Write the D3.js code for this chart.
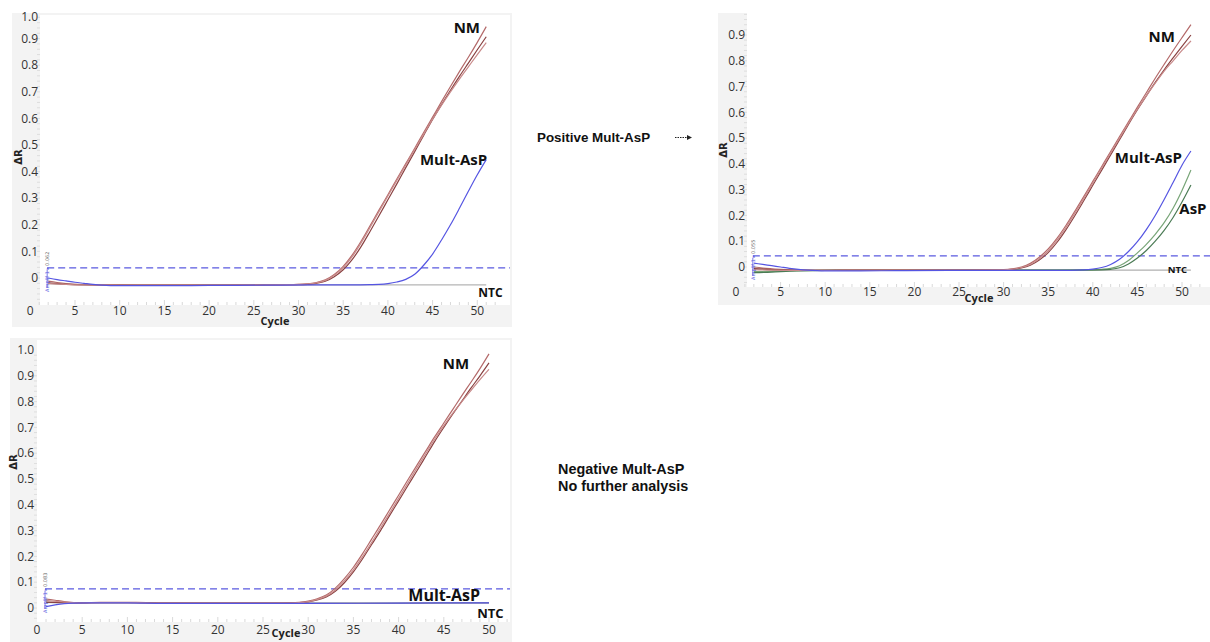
<!DOCTYPE html>
<html>
<head>
<meta charset="utf-8">
<script src="https://cdn.jsdelivr.net/npm/d3@7"></script>
<style>
    body { margin: 0; background: #fff; }
    svg { display: block; }
</style>
</head>
<body>
<div id="chart"></div>
<script>
'use strict';

var cycleTicks = [0, 5, 10, 15, 20, 25, 30, 35, 40, 45, 50];
var yTicksTen = [0, 0.1, 0.2, 0.3, 0.4, 0.5, 0.6, 0.7, 0.8, 0.9, 1.0];
var yTicksNine = [0, 0.1, 0.2, 0.3, 0.4, 0.5, 0.6, 0.7, 0.8, 0.9];

// top left: Mult-AsP screening, positive
var tlNM = [
    [[2,-0.012],[3,-0.017],[4,-0.021],[6,-0.025],[8,-0.026],[12,-0.027],[18,-0.027],[24,-0.026],[29,-0.025],[30,-0.024],[31,-0.022],[32,-0.017],[33,-0.007],[34,0.013],[35,0.044],[36,0.086],[37,0.138],[38,0.196],[39,0.255],[40,0.313],[41,0.372],[42,0.43],[43,0.488],[44,0.547],[45,0.605],[46,0.663],[47,0.72],[48,0.776],[49,0.83],[50,0.886],[51,0.945]],
    [[2,-0.018],[4,-0.023],[6,-0.025],[8,-0.026],[12,-0.027],[18,-0.027],[24,-0.026],[29,-0.025],[30,-0.025],[31,-0.024],[32,-0.02],[33,-0.012],[34,0.005],[35,0.031],[36,0.069],[37,0.118],[38,0.175],[39,0.234],[40,0.294],[41,0.354],[42,0.415],[43,0.475],[44,0.536],[45,0.596],[46,0.652],[47,0.706],[48,0.758],[49,0.808],[50,0.858],[51,0.907]],
    [[2,-0.021],[4,-0.024],[6,-0.026],[8,-0.026],[12,-0.027],[18,-0.027],[24,-0.026],[29,-0.025],[30,-0.024],[31,-0.022],[32,-0.018],[33,-0.009],[34,0.01],[35,0.039],[36,0.08],[37,0.132],[38,0.19],[39,0.249],[40,0.308],[41,0.367],[42,0.425],[43,0.483],[44,0.54],[45,0.597],[46,0.65],[47,0.7],[48,0.748],[49,0.794],[50,0.84],[51,0.885]]
];
var tlMult = [[2,0.0],[3,-0.006],[4,-0.011],[5,-0.016],[6,-0.02],[7,-0.024],[8,-0.027],[10,-0.029],[14,-0.029],[20,-0.028],[26,-0.027],[32,-0.026],[36,-0.026],[38,-0.025],[39,-0.024],[40,-0.021],[41,-0.015],[42,-0.005],[43,0.014],[44,0.048],[45,0.09],[46,0.143],[47,0.2],[48,0.262],[49,0.326],[50,0.388],[51,0.445]];
var tlNTC = [[2,-0.02],[4,-0.024],[7,-0.026],[20,-0.026],[40,-0.026],[51,-0.026]];

// top right: AsP run after a positive screen
var trNM = [
    [[2,0.0],[3,-0.004],[5,-0.009],[7,-0.012],[10,-0.013],[15,-0.012],[20,-0.012],[25,-0.012],[29,-0.011],[30,-0.01],[31,-0.007],[32,0.0],[33,0.014],[34,0.038],[35,0.07],[36,0.112],[37,0.162],[38,0.217],[39,0.274],[40,0.332],[41,0.39],[42,0.448],[43,0.506],[44,0.563],[45,0.62],[46,0.676],[47,0.732],[48,0.786],[49,0.839],[50,0.89],[51,0.94]],
    [[2,-0.006],[4,-0.01],[7,-0.012],[10,-0.013],[15,-0.012],[20,-0.012],[25,-0.012],[30,-0.011],[31,-0.009],[32,-0.004],[33,0.007],[34,0.027],[35,0.056],[36,0.096],[37,0.145],[38,0.2],[39,0.258],[40,0.317],[41,0.376],[42,0.435],[43,0.494],[44,0.553],[45,0.61],[46,0.664],[47,0.716],[48,0.765],[49,0.811],[50,0.856],[51,0.9]],
    [[2,-0.01],[4,-0.012],[7,-0.013],[10,-0.013],[15,-0.012],[20,-0.012],[25,-0.012],[30,-0.011],[31,-0.008],[32,-0.002],[33,0.01],[34,0.032],[35,0.063],[36,0.104],[37,0.154],[38,0.209],[39,0.266],[40,0.325],[41,0.384],[42,0.442],[43,0.5],[44,0.557],[45,0.612],[46,0.664],[47,0.713],[48,0.76],[49,0.8],[50,0.84],[51,0.877]]
];
var trMult = [[2,0.015],[3,0.01],[4,0.005],[5,0.0],[6,-0.005],[7,-0.009],[8,-0.012],[10,-0.015],[14,-0.015],[18,-0.014],[24,-0.013],[30,-0.013],[36,-0.013],[39,-0.011],[40,-0.008],[41,-0.002],[42,0.01],[43,0.03],[44,0.06],[45,0.098],[46,0.145],[47,0.2],[48,0.262],[49,0.328],[50,0.395],[51,0.45]];
var trAsP = [
    [[2,-0.018],[4,-0.017],[6,-0.015],[10,-0.013],[16,-0.011],[18,-0.013],[24,-0.012],[30,-0.012],[36,-0.012],[40,-0.011],[41,-0.009],[42,-0.005],[43,0.005],[44,0.025],[45,0.055],[46,0.088],[47,0.127],[48,0.172],[49,0.228],[50,0.297],[51,0.376]],
    [[2,-0.022],[4,-0.02],[6,-0.016],[10,-0.013],[16,-0.012],[24,-0.012],[30,-0.012],[36,-0.012],[41,-0.011],[42,-0.009],[43,-0.003],[44,0.012],[45,0.035],[46,0.064],[47,0.1],[48,0.142],[49,0.192],[50,0.252],[51,0.318]]
];
var trNTC = [[2,-0.008],[5,-0.011],[10,-0.012],[30,-0.012],[51,-0.012]];

// bottom: Mult-AsP screening, negative
var bNM = [
    [[1,0.035],[2,0.03],[3,0.025],[4,0.021],[5,0.02],[7,0.022],[11,0.022],[13,0.02],[20,0.019],[26,0.019],[28,0.02],[29,0.022],[30,0.027],[31,0.036],[32,0.05],[33,0.077],[34,0.114],[35,0.158],[36,0.21],[37,0.266],[38,0.322],[39,0.38],[40,0.437],[41,0.495],[42,0.552],[43,0.608],[44,0.664],[45,0.717],[46,0.77],[47,0.823],[48,0.875],[49,0.928],[50,0.985]],
    [[1,0.023],[3,0.021],[5,0.02],[7,0.021],[11,0.021],[13,0.019],[20,0.019],[27,0.019],[29,0.021],[30,0.024],[31,0.031],[32,0.043],[33,0.065],[34,0.098],[35,0.14],[36,0.19],[37,0.245],[38,0.3],[39,0.358],[40,0.415],[41,0.473],[42,0.53],[43,0.588],[44,0.646],[45,0.7],[46,0.752],[47,0.802],[48,0.852],[49,0.9],[50,0.95]],
    [[1,0.03],[3,0.023],[5,0.02],[7,0.021],[11,0.021],[13,0.019],[20,0.019],[27,0.019],[29,0.021],[30,0.025],[31,0.033],[32,0.046],[33,0.07],[34,0.105],[35,0.148],[36,0.198],[37,0.253],[38,0.31],[39,0.367],[40,0.425],[41,0.483],[42,0.541],[43,0.598],[44,0.655],[45,0.707],[46,0.755],[47,0.8],[48,0.843],[49,0.885],[50,0.925]]
];
var bMult = [[1,0.005],[2,0.012],[3,0.017],[4,0.019],[6,0.02],[10,0.02],[14,0.018],[20,0.018],[30,0.018],[40,0.019],[50,0.02]];
var bNTC = [[1,0.022],[3,0.021],[6,0.021],[12,0.021],[14,0.019],[30,0.019],[50,0.02]];

var thresholds = { tl: 0.038, tr: 0.043, b: 0.074 };
var thresholdText = { tl: '0.062', tr: '0.055', b: '0.083' };

var nmColors = ['#b46a6a', '#8a4242', '#c88a8a'];
var blue = '#5555e2';
var greens = ['#78a578', '#4b7b55'];

var W = 1210, H = 642;
var svg = d3.select('#chart').append('svg').attr('width', W).attr('height', H);

function drawPanel (p) {
    var g = svg.append('g');

    g.append('rect')
        .attr('x', p.frame[0]).attr('y', p.frame[1])
        .attr('width', p.frame[2] - p.frame[0]).attr('height', p.frame[3] - p.frame[1])
        .style('fill', '#f3f3f3');
    g.append('rect')
        .attr('x', p.plot[0]).attr('y', p.plot[1])
        .attr('width', p.plot[2] - p.plot[0]).attr('height', p.plot[3] - p.plot[1])
        .style('fill', '#fff');

    var x = d3.scaleLinear().domain([0, 50]).range(p.xRange);
    var y = d3.scaleLinear().domain([0, 0.9]).range(p.yRange);

    // minor ticks
    g.append('g').selectAll('line').data(d3.range(1, 53))
        .enter().append('line')
        .attr('x1', function (d) { return x(d); })
        .attr('x2', function (d) { return x(d); })
        .attr('y1', p.plot[3])
        .attr('y2', function (d) { return p.plot[3] - (d % 5 === 0 ? 5 : 3); })
        .style('stroke', '#cfcfcf').style('stroke-width', 0.8);
    g.append('g').selectAll('line').data(d3.range(-4, 50).map(function (d) { return d * 0.02; })
            .filter(function (v) { return y(v) > p.plot[1] && y(v) < p.plot[3]; }))
        .enter().append('line')
        .attr('x1', p.plot[0]).attr('x2', p.plot[0] - 3)
        .attr('y1', function (d) { return y(d); })
        .attr('y2', function (d) { return y(d); })
        .style('stroke', '#d8d8d8').style('stroke-width', 0.8);

    g.append('g').selectAll('text').data(p.yTicks)
        .enter().append('text')
        .attr('x', p.yLabelX)
        .attr('y', function (d) { return Math.max(y(d), p.plot[1] + 2); })
        .attr('dy', '0.35em')
        .attr('text-anchor', 'end')
        .style('font', '12px "Open Sans", sans-serif').style('fill', '#333')
        .text(function (d) { return d === 0 ? '0' : d.toFixed(1); });

    g.append('g').selectAll('text').data(cycleTicks)
        .enter().append('text')
        .attr('x', function (d) { return x(d); })
        .attr('y', p.xLabelY)
        .attr('dy', '0.35em')
        .attr('text-anchor', 'middle')
        .style('font', '12px "Open Sans", sans-serif').style('fill', '#333')
        .text(function (d) { return d; });

    g.append('text')
        .attr('x', p.cycleAt[0]).attr('y', p.cycleAt[1])
        .attr('text-anchor', 'middle').attr('dy', '0.35em')
        .style('font', 'bold 11px "Open Sans", sans-serif').style('fill', '#222')
        .text('Cycle');
    g.append('text')
        .attr('transform', 'translate(' + p.drAt[0] + ',' + p.drAt[1] + ') rotate(-90)')
        .attr('text-anchor', 'middle').attr('dy', '0.35em')
        .style('font', 'bold 10px "DejaVu Sans", sans-serif').style('fill', '#222')
        .text('ΔR');

    var clipId = 'clip-' + p.id;
    g.append('clipPath').attr('id', clipId).append('rect')
        .attr('x', p.plot[0]).attr('y', p.plot[1])
        .attr('width', p.plot[2] - p.plot[0]).attr('height', p.plot[3] - p.plot[1]);

    var lines = g.append('g').attr('clip-path', 'url(#' + clipId + ')');

    // threshold
    var ty = y(p.threshold);
    lines.append('line')
        .attr('x1', x(p.firstCycle) - 1).attr('x2', p.plot[2])
        .attr('y1', ty).attr('y2', ty)
        .style('stroke', '#5a5ae0').style('stroke-width', 1.3)
        .style('stroke-dasharray', '7,4');

    var line = d3.line()
        .x(function (d) { return x(d[0]); })
        .y(function (d) { return y(d[1]); })
        .curve(d3.curveMonotoneX);

    lines.selectAll('path.s').data(p.series)
        .enter().append('path')
        .attr('d', function (d) { return line(d.values); })
        .style('fill', 'none')
        .style('stroke', function (d) { return d.color; })
        .style('stroke-width', function (d) { return d.width || 1.2; });

    // tiny threshold marker next to the first cycle
    var mx = x(p.firstCycle) - 1;
    g.append('line')
        .attr('x1', mx).attr('x2', mx)
        .attr('y1', ty + 2).attr('y2', ty + 20)
        .style('stroke', '#5a5ae0').style('stroke-width', 0.8);
    g.append('text')
        .attr('transform', 'translate(' + (mx + 2) + ',' + (ty - 2) + ') rotate(-90)')
        .style('font', '5px "DejaVu Sans", sans-serif').style('fill', '#666')
        .text(p.thresholdLabel);
    g.append('text')
        .attr('transform', 'translate(' + (mx + 2) + ',' + (ty + 24) + ') rotate(-90)')
        .style('font', '5px "DejaVu Sans", sans-serif').style('fill', '#5a5ae0')
        .text('Amplif 1 ▸');

    g.append('g').selectAll('text').data(p.labels)
        .enter().append('text')
        .attr('x', function (d) { return x(d.c); })
        .attr('y', function (d) { return y(d.v); })
        .attr('text-anchor', function (d) { return d.anchor; })
        .style('font-family', '"Open Sans", sans-serif')
        .style('font-weight', 'bold')
        .style('font-size', function (d) { return d.size + 'px'; })
        .style('fill', '#111')
        .text(function (d) { return d.text; });
}

function nmSeries (arr) {
    return arr.map(function (v, i) { return { values: v, color: nmColors[i] }; });
}

drawPanel({
    id: 'tl',
    frame: [12, 13, 512, 327],
    plot: [40, 15, 510, 305],
    xRange: [30.3, 477.3],
    yRange: [278, 38.6],
    yTicks: yTicksTen,
    yLabelX: 38,
    xLabelY: 311,
    cycleAt: [275, 321],
    drAt: [18, 157],
    firstCycle: 2,
    threshold: thresholds.tl,
    thresholdLabel: thresholdText.tl,
    series: [{ values: tlNTC, color: '#b5b5b5', width: 1.2 }]
        .concat(nmSeries(tlNM))
        .concat([{ values: tlMult, color: blue }]),
    labels: [
        { text: 'NM', c: 50.3, v: 0.92, anchor: 'end', size: 15 },
        { text: 'Mult-AsP', c: 51.1, v: 0.425, anchor: 'end', size: 15 },
        { text: 'NTC', c: 50.1, v: -0.071, anchor: 'start', size: 12 }
    ]
});

drawPanel({
    id: 'tr',
    frame: [718, 13, 1210, 305],
    plot: [747, 13, 1210, 287],
    xRange: [736, 1182],
    yRange: [267, 35],
    yTicks: yTicksNine,
    yLabelX: 745,
    xLabelY: 292,
    cycleAt: [979, 298],
    drAt: [723, 150],
    firstCycle: 2,
    threshold: thresholds.tr,
    thresholdLabel: thresholdText.tr,
    series: [{ values: trNTC, color: '#b0b0b0', width: 1.2 }]
        .concat(trAsP.map(function (v, i) { return { values: v, color: greens[i] }; }))
        .concat(nmSeries(trNM))
        .concat([{ values: trMult, color: blue }]),
    labels: [
        { text: 'NM', c: 49.2, v: 0.872, anchor: 'end', size: 15 },
        { text: 'Mult-AsP', c: 50.0, v: 0.403, anchor: 'end', size: 15 },
        { text: 'AsP', c: 49.7, v: 0.205, anchor: 'start', size: 15 },
        { text: 'NTC', c: 48.4, v: -0.023, anchor: 'start', size: 9.5 }
    ]
});

drawPanel({
    id: 'b',
    frame: [10, 338, 512, 642],
    plot: [37, 340, 510, 622],
    xRange: [37, 489],
    yRange: [608, 375.8],
    yTicks: yTicksTen,
    yLabelX: 34,
    xLabelY: 630,
    cycleAt: [286, 633],
    drAt: [13, 462],
    firstCycle: 1,
    threshold: thresholds.b,
    thresholdLabel: thresholdText.b,
    series: [{ values: bNTC, color: '#6e6e6e', width: 1.2 }]
        .concat(nmSeries(bNM))
        .concat([{ values: bMult, color: blue }]),
    labels: [
        { text: 'NM', c: 47.8, v: 0.926, anchor: 'end', size: 15 },
        { text: 'Mult-AsP', c: 49.0, v: 0.027, anchor: 'end', size: 16 },
        { text: 'NTC', c: 48.7, v: -0.039, anchor: 'start', size: 13 }
    ]
});

// notes between the panels
var note = 'bold 13.4px "Liberation Sans", Arial, sans-serif';
svg.append('text').attr('x', 537).attr('y', 142)
    .style('font', note).style('fill', '#111')
    .text('Positive Mult-AsP');
svg.append('line')
    .attr('x1', 675).attr('x2', 688).attr('y1', 137.5).attr('y2', 137.5)
    .style('stroke', '#222').style('stroke-width', 1).style('stroke-dasharray', '1.5,1');
svg.append('path')
    .attr('d', d3.line()([[687, 135], [692, 137.5], [687, 140]]) + 'Z')
    .style('fill', '#222');

svg.append('text').attr('x', 558).attr('y', 474)
    .style('font', 'bold 14.4px "Liberation Sans", Arial, sans-serif').style('fill', '#111')
    .text('Negative Mult-AsP');
svg.append('text').attr('x', 558).attr('y', 491)
    .style('font', 'bold 14.4px "Liberation Sans", Arial, sans-serif').style('fill', '#111')
    .text('No further analysis');
</script>
</body>
</html>
